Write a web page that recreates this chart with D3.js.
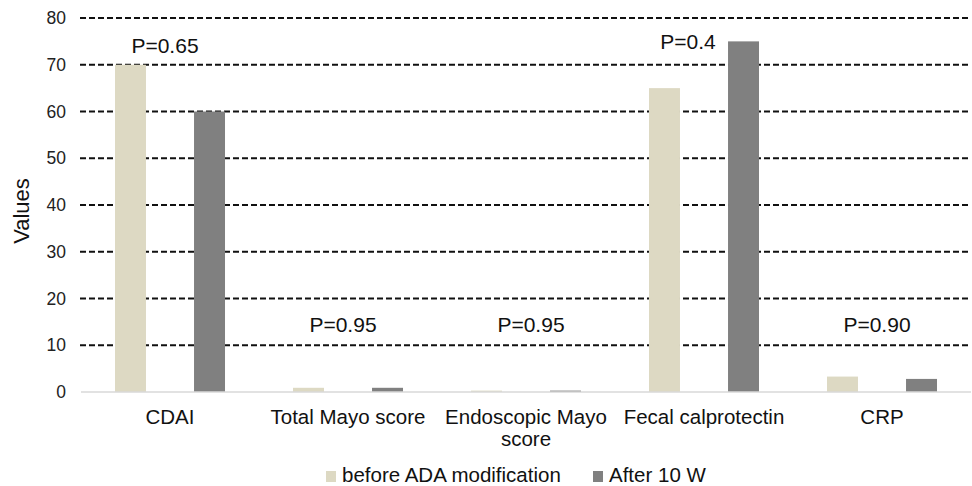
<!DOCTYPE html>
<html>
<head>
<meta charset="utf-8">
<script src="https://cdn.jsdelivr.net/npm/d3@7"></script>
<style>
  body { margin: 0; background: #fff; }
  svg { display: block; font-family: "Liberation Sans", Arial, sans-serif; }
</style>
</head>
<body>
<svg id="chart"></svg>
<script>
// data
const categories = ["CDAI", "Total Mayo score", "Endoscopic Mayo score", "Fecal calprotectin", "CRP"];
const seriesNames = ["before ADA modification", "After 10 W"];
const beforeValues = [70, 0.9, 0.3, 65, 3.3];
const afterValues = [60, 0.9, 0.3, 75, 2.8];
const pLabels = ["P=0.65", "P=0.95", "P=0.95", "P=0.4", "P=0.90"];
const pLabelLevel = [72.6, 12.9, 12.9, 73.4, 12.9];   // value level of the label baseline
const yTicks = [0, 10, 20, 30, 40, 50, 60, 70, 80];

const colors = ["#ddd9c3", "#808080"];

class BarChart {
  constructor(_config) {
    this.config = {
      parentElement: _config.parentElement,
      containerWidth: _config.containerWidth || 972,
      containerHeight: _config.containerHeight || 486,
      margin: _config.margin || {top: 18, right: 1, bottom: 94, left: 81}
    };
    this.initVis();
  }

  initVis() {
    let vis = this;
    vis.svg = d3.select(vis.config.parentElement)
        .attr('width', vis.config.containerWidth)
        .attr('height', vis.config.containerHeight);

    vis.width = vis.config.containerWidth - vis.config.margin.left - vis.config.margin.right;
    vis.height = vis.config.containerHeight - vis.config.margin.top - vis.config.margin.bottom;

    vis.chart = vis.svg.append('g')
        .attr('transform', `translate(${vis.config.margin.left},${vis.config.margin.top})`);

    vis.yScale = d3.scaleLinear().domain([0, 80]).range([vis.height, 0]);
    vis.xScale = d3.scaleBand().domain(categories).range([0, vis.width]).padding(0);
    vis.xInner = d3.scaleBand().domain(seriesNames)
        .range([0, vis.xScale.bandwidth()])
        .paddingInner(0.608)
        .paddingOuter(0.43);

    vis.data = categories.map((c, i) => ({
      key: c,
      values: [
        {series: seriesNames[0], value: beforeValues[i]},
        {series: seriesNames[1], value: afterValues[i]}
      ]
    }));

    vis.renderVis();
  }

  renderVis() {
    let vis = this;

    // dashed gridlines (not at 0)
    vis.chart.append('g')
        .selectAll('line')
        .data(yTicks.filter(d => d > 0))
        .join('line')
        .attr('x1', -1)
        .attr('x2', vis.width)
        .attr('y1', d => vis.yScale(d))
        .attr('y2', d => vis.yScale(d))
        .attr('stroke', '#111')
        .attr('stroke-width', 2)
        .attr('stroke-dasharray', '6,3');

    // y axis labels
    const yAxis = d3.axisLeft(vis.yScale).tickValues(yTicks).tickSize(0).tickPadding(15);
    vis.chart.append('g')
        .attr('class', 'axis y-axis')
        .call(yAxis)
        .call(g => g.select('.domain').remove())
        .call(g => g.selectAll('text')
            .attr('font-size', 17.5)
            .attr('font-family', '"Liberation Sans", Arial, sans-serif')
            .attr('fill', '#222'));

    // bars
    const groups = vis.chart.selectAll('.cat')
        .data(vis.data)
        .join('g')
        .attr('class', 'cat')
        .attr('transform', d => `translate(${vis.xScale(d.key)},0)`);

    groups.selectAll('rect')
        .data(d => d.values)
        .join('rect')
        .attr('x', d => vis.xInner(d.series))
        .attr('width', vis.xInner.bandwidth())
        .attr('y', d => vis.yScale(d.value))
        .attr('height', d => vis.height - vis.yScale(d.value))
        .attr('fill', (d, i) => colors[i]);

    // baseline
    vis.chart.append('line')
        .attr('x1', 0)
        .attr('x2', vis.width)
        .attr('y1', vis.yScale(0))
        .attr('y2', vis.yScale(0))
        .attr('stroke', '#d9d9d9')
        .attr('stroke-width', 1.5);

    // category labels, wrapped like the original
    const wrapped = {"Endoscopic Mayo score": ["Endoscopic Mayo", "score"]};
    vis.chart.append('g')
        .selectAll('text')
        .data(categories)
        .join('text')
        .attr('x', d => vis.xScale(d) + vis.xScale.bandwidth() / 2)
        .attr('y', vis.height + 32)
        .attr('text-anchor', 'middle')
        .attr('font-size', 20.5)
        .attr('fill', '#111')
        .each(function(d) {
          const lines = wrapped[d] || [d];
          d3.select(this).selectAll('tspan')
              .data(lines)
              .join('tspan')
              .attr('x', d3.select(this).attr('x'))
              .attr('dy', (l, j) => j === 0 ? 0 : 22)
              .text(l => l);
        });

    // p-value annotations (text boxes nudged as in the original)
    const pShift = [-5, -5, 5, -16, -5];
    vis.chart.append('g')
        .selectAll('text')
        .data(pLabels)
        .join('text')
        .attr('x', (d, i) => vis.xScale(categories[i]) + vis.xScale.bandwidth() / 2 + pShift[i])
        .attr('y', (d, i) => vis.yScale(pLabelLevel[i]))
        .attr('text-anchor', 'middle')
        .attr('font-size', 21)
        .attr('fill', '#111')
        .text(d => d);

    // y title
    vis.svg.append('text')
        .attr('transform', `translate(29,${vis.config.margin.top + vis.height / 2 + 6}) rotate(-90)`)
        .attr('text-anchor', 'middle')
        .attr('font-size', 22)
        .attr('fill', '#111')
        .text('Values');

    // legend
    const legendX = [326, 593];
    const legend = vis.svg.append('g')
        .selectAll('g')
        .data(seriesNames)
        .join('g')
        .attr('transform', (d, i) => `translate(${legendX[i]},471)`);
    legend.append('rect')
        .attr('width', 10)
        .attr('height', 11)
        .attr('fill', (d, i) => colors[i]);
    legend.append('text')
        .attr('x', 16)
        .attr('y', 11)
        .attr('font-size', 20.5)
        .attr('fill', '#111')
        .text(d => d);
  }
}

new BarChart({parentElement: '#chart'});
</script>
</body>
</html>
